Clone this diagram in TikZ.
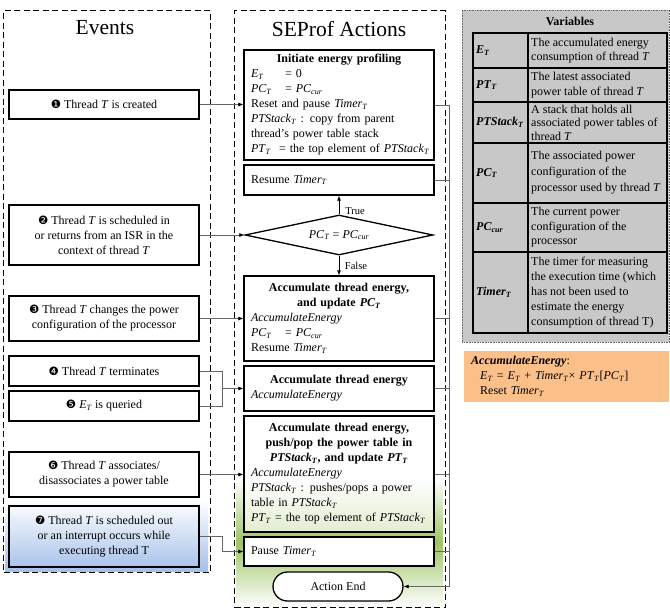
\documentclass[tikz,border=0pt]{standalone}
\usepackage{fontspec}
\setmainfont{Liberation Serif}
\newfontfamily\dingf{DejaVu Sans}
\usetikzlibrary{arrows.meta,shapes.geometric}

% italic variable with italic subscript, e.g. E_T
\newcommand\vr[2]{\textit{#1}\textsubscript{\textit{#2}}}
% negative circled digit
\newcommand\cnum[1]{{\dingf\fontsize{11.5}{11.5}\selectfont #1}}

\definecolor{vargray}{RGB}{200,200,200}
\definecolor{accorange}{RGB}{251,191,137}
\definecolor{glowgreen}{RGB}{158,196,100}
\definecolor{glowblue}{RGB}{165,192,234}

\begin{document}
\begin{tikzpicture}[x=1pt,y=-1pt,
  every node/.style={font=\fontsize{12}{15}\selectfont, inner sep=0pt},
  panel/.style={draw, line width=1.3pt, dash pattern=on 6pt off 3.5pt, anchor=north west},
  paneltitle/.style={font=\fontsize{21.5}{24}\selectfont},
  evbox/.style={draw, line width=1.3pt, minimum width=190pt, align=center},
  acbox/.style={draw, line width=1.3pt, fill=white, minimum width=190pt, text width=176pt, align=left},
  decision/.style={draw, line width=1.3pt, fill=white, diamond, aspect=4.7, minimum width=188pt, minimum height=40pt},
  endbox/.style={draw, line width=1.3pt, fill=white, rounded corners=14.5pt, minimum width=130pt, minimum height=29pt},
  conn/.style={draw=black!60, line width=0.7pt},
  arr/.style={conn, -{Latex[length=5pt,width=4pt,color=black]}},
  tf/.style={draw=black, line width=0.8pt, -{Latex[length=5pt,width=4pt]}},
  tflabel/.style={font=\fontsize{10.5}{12}\selectfont},
  vname/.style={anchor=west, font=\fontsize{12}{15}\selectfont\bfseries},
  vdesc/.style={anchor=west, align=left, font=\fontsize{12}{14.5}\selectfont},
]
\useasboundingbox (0,0) rectangle (670,613);

% soft glows behind the lower parts of both panels
\shade[top color=white, bottom color=white, middle color=glowgreen] (236,478) rectangle (443,607);
\shade[top color=white, bottom color=glowblue] (5,500) rectangle (208,571);

% panels
\node[panel, minimum width=207pt, minimum height=562pt] (evpanel) at (3,10) {};
\node[panel, minimum width=211pt, minimum height=597pt] (acpanel) at (234,10) {};
\node[paneltitle] (evtitle) at (105,27.5) {Events};
\node[paneltitle] (actitle) at (339,29) {SEProf Actions};

% events
\node[evbox, minimum height=29pt] (e1) at (104,104.5) {\cnum{❶} Thread \textit{T} is created};
\node[evbox, minimum height=60pt] (e2) at (104,235) {\cnum{❷} Thread \textit{T} is scheduled in\\or returns from an ISR in the\\context of thread \textit{T}};
\node[evbox, minimum height=45pt] (e3) at (104,318.5) {\cnum{❸} Thread \textit{T} changes the power\\configuration of the processor};
\node[evbox, minimum height=30pt] (e4) at (104,371) {\cnum{❹} Thread \textit{T} terminates};
\node[evbox, minimum height=30pt] (e5) at (104,406) {\cnum{❺} \vr{E}{T} is queried};
\node[evbox, minimum height=45pt] (e6) at (104,474.5) {\cnum{❻} Thread \textit{T} associates/\\disassociates a power table};
\node[evbox, minimum height=61pt] (e7) at (104,536.5) {\cnum{❼} Thread \textit{T} is scheduled out\\or an interrupt occurs while\\executing thread T};

% actions
\node[acbox, minimum height=110pt] (a1) at (339,105) {%
  {\centering\bfseries Initiate energy profiling\par}
  \makebox[34pt][l]{\vr{E}{T}}= 0\\
  \makebox[34pt][l]{\vr{PC}{T}}= \vr{PC}{cur}\\
  Reset and pause \vr{Timer}{T}\\
  \vr{PTStack}{T} : copy from parent\\
  thread's power table stack\\
  \mbox{\vr{PT}{T}\ \ = the top element of \vr{PTStack}{T}}};
\node[acbox, minimum height=30pt] (a2) at (339,180) {Resume \vr{Timer}{T}};
\node[decision] (d) at (339,235) {\vr{PC}{T} = \vr{PC}{cur}};
\node[acbox, minimum height=85pt] (a3) at (339,318.5) {%
  {\centering\bfseries Accumulate thread energy,\\and update \vr{PC}{T}\par}
  \textit{AccumulateEnergy}\\
  \makebox[34pt][l]{\vr{PC}{T}}= \vr{PC}{cur}\\
  Resume \vr{Timer}{T}};
\node[acbox, minimum height=45pt] (a4) at (339,388.5) {%
  {\centering\bfseries Accumulate thread energy\par}
  \textit{AccumulateEnergy}};
\node[acbox, fill opacity=0.65, text opacity=1, minimum height=116pt] (a5) at (339,474) {%
  {\centering\bfseries Accumulate thread energy,\\push/pop the power table in\\\vr{PTStack}{T}, and update \vr{PT}{T}\par}
  \textit{AccumulateEnergy}\\
  \mbox{\vr{PTStack}{T} : pushes/pops a power}\\
  table in \vr{PTStack}{T}\\
  \mbox{\vr{PT}{T} = the top element of \vr{PTStack}{T}}};
\node[acbox, minimum height=29pt] (a6) at (339,551.5) {Pause \vr{Timer}{T}};
\node[endbox] (aend) at (338,586.5) {Action End};

% decision branches
\draw[tf] (d.north) -- (a2.south);
\node[tflabel] (ltrue) at (355,211) {True};
\draw[tf] (d.south) -- (a3.north);
\node[tflabel] (lfalse) at (356,266) {False};

% events to actions
\draw[arr] (e1.east) -- (e1.east -| a1.west);
\draw[arr] (e2.east) -- (d.west);
\draw[arr] (e3.east) -- (e3.east -| a3.west);
\coordinate (j45) at (222,388.5);
\draw[conn] (e4.east) -| (j45);
\draw[conn] (e5.east) -| (j45);
\draw[arr] (j45) -- (j45 -| a4.west);
\draw[arr] (e6.east) -- (e6.east -| a5.west);
\coordinate (j7) at (222,536.5);
\draw[arr] (e7.east) -- (j7) |- (a6.west);

% every action returns to the end node
\coordinate (rr) at (449,0);
\draw[arr] (a1.east) -| (rr |- aend.east) -- (aend.east);
\foreach \n in {a2,a3,a4,a5,a6}
  \draw[conn] (\n.east) -- (\n.east -| rr);

% variables table
\node[anchor=north west, fill=vargray, draw=black!60, densely dotted, line width=0.6pt,
      minimum width=207pt, minimum height=332pt] (varpanel) at (462,10) {};
\node[font=\fontsize{12}{15}\selectfont\bfseries] (vartitle) at (570,21) {Variables};
\draw[line width=1.1pt] (473,33) rectangle (667,333);
\draw[line width=1.1pt] (528,33) -- (528,333);
\foreach \yy in {68,102,143,203,252}
  \draw[line width=1.1pt] (473,\yy) -- (667,\yy);

\node[vname] (n1) at (476,50.5) {\vr{E}{T}};
\node[vname] (n2) at (476,85) {\vr{PT}{T}};
\node[vname] (n3) at (476,122.5) {\vr{PTStack}{T}};
\node[vname] (n4) at (476,173) {\vr{PC}{T}};
\node[vname] (n5) at (476,227.5) {\vr{PC}{cur}};
\node[vname] (n6) at (476,292.5) {\vr{Timer}{T}};

\node[vdesc] (t1) at (531,50.5) {The accumulated energy\\consumption of thread \textit{T}};
\node[vdesc] (t2) at (531,85) {The latest associated\\power table of thread \textit{T}};
\node[vdesc, font=\fontsize{12}{13.5}\selectfont] (t3) at (531,122.5) {A stack that holds all\\associated power tables of\\thread \textit{T}};
\node[vdesc, font=\fontsize{12}{16}\selectfont] (t4) at (531,173) {The associated power\\configuration of the\\processor used by thread \textit{T}};
\node[vdesc] (t5) at (531,227.5) {The current power\\configuration of the\\processor};
\node[vdesc, font=\fontsize{12}{15}\selectfont] (t6) at (531,292.5) {The timer for measuring\\the execution time (which\\has not been used to\\estimate the energy\\consumption of thread T)};

% definition of AccumulateEnergy
\node[anchor=north west, fill=accorange, minimum width=205pt, minimum height=51pt,
      text width=191pt, align=left] (acc) at (464,351) {%
  \textbf{\textit{AccumulateEnergy}}:\\
  \hspace*{9pt}\vr{E}{T} = \vr{E}{T} + \vr{Timer}{T}× \vr{PT}{T}[\vr{PC}{T}]\\
  \hspace*{9pt}Reset \vr{Timer}{T}};
\end{tikzpicture}
\end{document}
